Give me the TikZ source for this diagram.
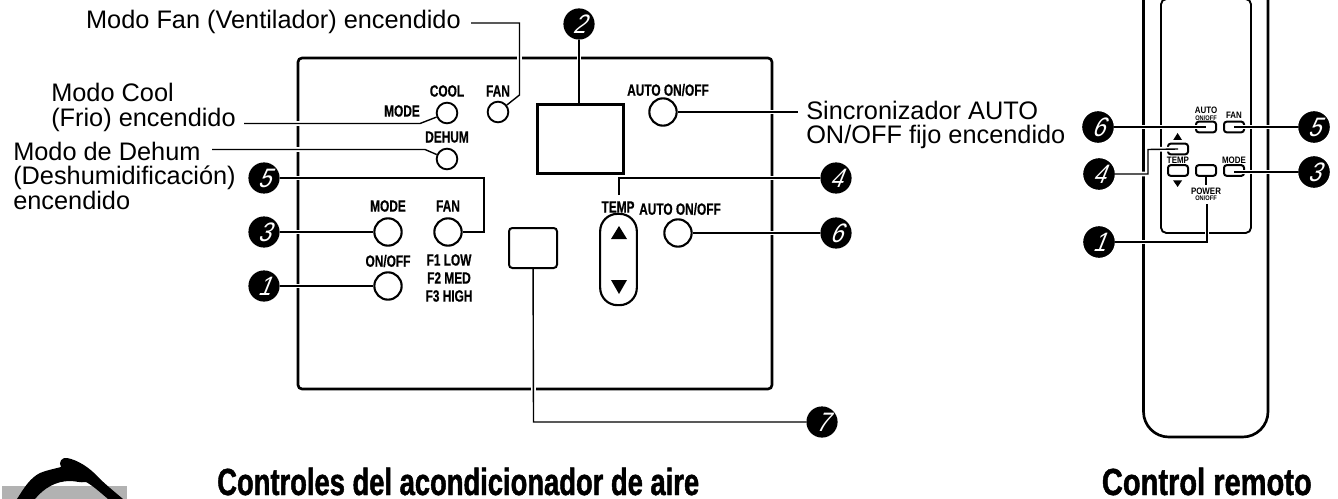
\documentclass[tikz,border=0pt]{standalone}
\usepackage{fontspec}
\setmainfont{Liberation Sans}
\newfontfamily\cond[FakeStretch=0.73,FakeBold=0.5]{Liberation Sans}
\newfontfamily\condb[FakeStretch=0.85]{Liberation Sans}
\newfontfamily\ttla[FakeStretch=0.725,FakeBold=1.2]{Liberation Sans}
\newfontfamily\ttlb[FakeStretch=0.77,FakeBold=1.2]{Liberation Sans}
\newfontfamily\numf[FakeSlant=0.4,FakeStretch=0.85]{Liberation Sans}
\pgfdeclarelayer{panel}
\pgfdeclarelayer{conn}
\pgfsetlayers{panel,conn,main}
\tikzset{
  bub/.style={circle,fill=black,text=white,inner sep=0pt,minimum size=23.4pt,font=\numf\fontsize{20}{20}\selectfont},
  led/.style={circle,draw=black,fill=white,line width=1.4pt,inner sep=0pt,minimum size=15.5pt},
  btn/.style={circle,draw=black,fill=white,line width=1.6pt,inner sep=0pt,minimum size=20.5pt},
  rbtn/.style={rectangle,rounded corners=2pt,draw=black,fill=white,line width=1.5pt,inner sep=0pt,minimum width=15pt,minimum height=8pt},
  lbl/.style={inner sep=0pt,font=\cond\bfseries\fontsize{12.2}{13.5}\selectfont,align=center},
  slbl/.style={inner sep=0pt,font=\condb\bfseries\fontsize{7}{7}\selectfont},
  ssub/.style={inner sep=0pt,font=\condb\bfseries\fontsize{5}{5}\selectfont},
  txt/.style={inner sep=0pt,anchor=west,align=left,font=\fontsize{19}{18.4}\selectfont},
  ttl/.style={inner sep=0pt,font=\fontsize{28.3}{28.3}\selectfont\bfseries},
  lead/.style={line width=1.05pt,draw=black,line join=miter,preaction={draw=white,line width=3.6pt}},
  frame/.style={draw=black,line width=2pt}
}
\begin{document}
\begin{tikzpicture}[x=0.75pt,y=-0.75pt]
\useasboundingbox (0,0) rectangle (1338,499);
% panel, logo, remote outline
\begin{pgfonlayer}{panel}
\draw[frame,rounded corners=3pt] (298,58) rectangle (772,389);
\fill[black!30] (2,486) rectangle (127,499);
\fill[black] (17,499) .. controls (24,488) and (30,478) .. (40,473)
  .. controls (47,470) and (54,469) .. (61,467)
  .. controls (58,462) and (62,457) .. (67,458)
  .. controls (78,460) and (90,468) .. (98,477)
  .. controls (106,485) and (116,493) .. (123,499)
  -- (108,499) .. controls (101,493) and (92,485) .. (86,482)
  .. controls (80,483) and (76,481) .. (70,481)
  .. controls (56,481) and (44,488) .. (35,499) -- cycle;
\draw[frame,rounded corners=19pt] (1143.5,-8) -- (1143.5,437) -- (1268,437) -- (1268,-8);
\draw[draw=black,line width=1.4pt,rounded corners=4pt] (1161,-1) rectangle (1251,233);
\end{pgfonlayer}
% bubbles
\node[bub] (b2) at (579,24) {2};
\node[bub] (b5) at (264,178) {5};
\node[bub] (b3) at (264,232) {3};
\node[bub] (b1) at (264,286) {1};
\node[bub] (b4) at (836,178) {4};
\node[bub] (b6) at (836,233) {6};
\node[bub] (b7) at (822,422) {7};
\node[bub] (r6) at (1098,127) {6};
\node[bub] (r5) at (1314,127) {5};
\node[bub] (r4) at (1099,174) {4};
\node[bub] (r3) at (1314,172) {3};
\node[bub] (r1) at (1099,242) {1};
% panel controls
\node[led] (fanled) at (498,112) {};
\node[led] (coolled) at (447,113) {};
\node[led] (dehled) at (447,159) {};
\node[btn] (modebtn) at (388,232) {};
\node[btn] (fanbtn) at (448,232) {};
\node[btn] (onbtn) at (388,286) {};
\node[btn] (autotop) at (663,112) {};
\node[btn] (autobtn) at (678,233) {};
\node[draw=black,fill=white,line width=1.9pt,inner sep=0pt,minimum width=64.5pt,minimum height=52pt] (disp) at (580.5,139) {};
\node[draw=black,fill=white,line width=1.5pt,rounded corners=2.5pt,inner sep=0pt,minimum width=36pt,minimum height=30pt] (recv) at (533,248) {};
\node[draw=black,fill=white,line width=1.6pt,rounded corners=13pt,inner sep=0pt,minimum width=27.5pt,minimum height=68.5pt] (capsule) at (618.5,259.5) {};
\fill[black] (619,226) -- (627,239) -- (611,239) -- cycle;
\fill[black] (619,294) -- (627,280) -- (611,280) -- cycle;
% panel labels
\node[lbl] at (447,91) {COOL};
\node[lbl] at (498,91) {FAN};
\node[lbl] at (402,111) {MODE};
\node[lbl] at (447,137) {DEHUM};
\node[lbl] at (388,206) {MODE};
\node[lbl] at (448,206) {FAN};
\node[lbl] at (388,261) {ON/OFF};
\node[lbl,align=center] at (449,278) {F1 LOW\\F2 MED\\F3 HIGH};
\node[lbl] at (668,90) {AUTO ON/OFF};
\node[lbl] at (618,207) {TEMP};
\node[lbl] at (680,209) {AUTO ON/OFF};
% texts
\node[txt,anchor=east] (tfan) at (461,21.5) {Modo Fan (Ventilador) encendido};
\node[txt] (tcool) at (51,107.5) {Modo Cool\\(Frio) encendido};
\node[txt] (tdeh) at (13,175.5) {Modo de Dehum\\(Deshumidificación)\\encendido};
\node[txt] (tsync) at (806,125) {Sincronizador AUTO\\ON/OFF fijo encendido};
\node[ttl,anchor=base west] (t1) at (217,495) {\ttla Controles del acondicionador de aire};
\node[ttl,anchor=base east] (t2) at (1312,495) {\ttlb Control remoto};
% free connector ends
\coordinate (a1) at (471,23);
\coordinate (a2) at (519.5,23);
\coordinate (a3) at (519.5,95);
\coordinate (c1) at (244,123.5);
\coordinate (c2) at (420,123.5);
\coordinate (d1) at (212,149.5);
\coordinate (d2) at (425,149.5);
\coordinate (e1) at (484,178);
\coordinate (e2) at (484,232);
\coordinate (f1) at (798,112);
\coordinate (g1) at (619,195);
\coordinate (g2) at (619,178);
\coordinate (h1) at (533.5,422);
\begin{pgfonlayer}{conn}
\draw[lead] (a1) -- (a2) -- (a3) -- (fanled);
\draw[lead] (c1) -- (c2) -- (coolled);
\draw[lead] (d1) -- (d2) -- (dehled);
\draw[lead] (b5) -- (e1) -- (e2) -- (fanbtn);
\draw[lead] (b3) -- (modebtn);
\draw[lead] (b1) -- (onbtn);
\draw[lead] (b2) -- (disp.north -| b2);
\draw[lead] (autotop) -- (f1);
\draw[lead] (g1) -- (g2) -- (b4);
\draw[lead] (autobtn) -- (b6);
\draw[lead] (recv) -- (h1) -- (b7);
\end{pgfonlayer}
% remote buttons
\node[rbtn] (rauto) at (1206,127) {};
\node[rbtn] (rfan) at (1234,127) {};
\node[rbtn] (rup) at (1178,149) {};
\node[rbtn] (rtemp) at (1178,170.5) {};
\node[rbtn] (rpow) at (1206,170.5) {};
\node[rbtn] (rmode) at (1234,170.5) {};
\fill[black] (1177.6,133) -- (1182,140) -- (1173.2,140) -- cycle;
\fill[black] (1177.6,187) -- (1182,180.5) -- (1173.2,180.5) -- cycle;
\node[slbl] at (1206,110) {AUTO};
\node[ssub] at (1206,118) {ON/OFF};
\node[slbl] at (1234,115.5) {FAN};
\node[slbl] at (1178,160) {TEMP};
\node[slbl] at (1234,160) {MODE};
\node[slbl] (rpl) at (1206,191) {POWER};
\node[ssub] (ron) at (1206,198) {ON/OFF};
\coordinate (i1) at (1207,242);
\coordinate (i2) at (1207,204);
\coordinate (i3) at (1148,174);
\coordinate (i4) at (1148,149.5);
\coordinate (i5) at (1206,185);
\draw[lead] (r6) -- (rauto.center);
\draw[lead] (r5) -- (rfan.center);
\draw[lead] (r3) -- (rmode.center |- r3);
\draw[lead] (r4) -- (i3) -- (i4) -- (rup.center);
\draw[line width=1.05pt] (rpow) -- (i5);
\draw[lead] (r1) -- (i1) -- (i2);
\node[bub] at (r6) {6};
\node[bub] at (r5) {5};
\node[bub] at (r4) {4};
\node[bub] at (r3) {3};
\node[bub] at (r1) {1};
\end{tikzpicture}
\end{document}
